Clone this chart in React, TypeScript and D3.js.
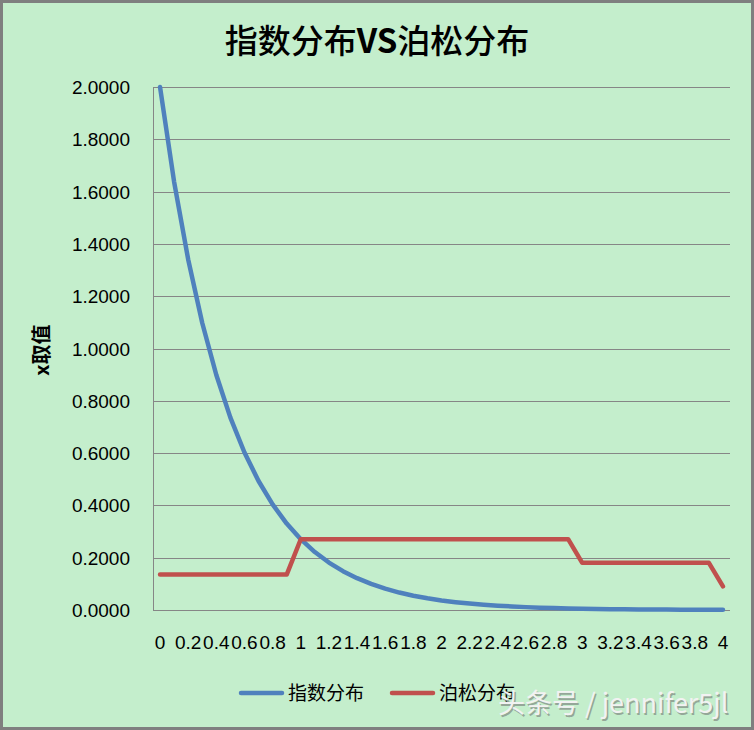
import React from 'react';
import * as d3 from 'd3';

// x values, step 0.1 (labels shown every second category)
const categories = [
    '0', '0.1', '0.2', '0.3', '0.4', '0.5', '0.6', '0.7', '0.8', '0.9',
    '1', '1.1', '1.2', '1.3', '1.4', '1.5', '1.6', '1.7', '1.8', '1.9',
    '2', '2.1', '2.2', '2.3', '2.4', '2.5', '2.6', '2.7', '2.8', '2.9',
    '3', '3.1', '3.2', '3.3', '3.4', '3.5', '3.6', '3.7', '3.8', '3.9',
    '4',
];

const expValues = [
    2.0, 1.6375, 1.3406, 1.0976, 0.8987, 0.7358, 0.6024, 0.4932, 0.4038, 0.3306,
    0.2707, 0.2216, 0.1814, 0.1485, 0.1216, 0.0996, 0.0815, 0.0667, 0.0546, 0.0447,
    0.0366, 0.0300, 0.0246, 0.0201, 0.0165, 0.0135, 0.0110, 0.0090, 0.0074, 0.0061,
    0.0050, 0.0041, 0.0033, 0.0027, 0.0022, 0.0018, 0.0015, 0.0012, 0.0010, 0.0008,
    0.0007,
];

const poissonValues = [
    0.1353, 0.1353, 0.1353, 0.1353, 0.1353, 0.1353, 0.1353, 0.1353, 0.1353, 0.1353,
    0.2707, 0.2707, 0.2707, 0.2707, 0.2707, 0.2707, 0.2707, 0.2707, 0.2707, 0.2707,
    0.2707, 0.2707, 0.2707, 0.2707, 0.2707, 0.2707, 0.2707, 0.2707, 0.2707, 0.2707,
    0.1804, 0.1804, 0.1804, 0.1804, 0.1804, 0.1804, 0.1804, 0.1804, 0.1804, 0.1804,
    0.0902,
];

const yTicks = [0, 0.2, 0.4, 0.6, 0.8, 1.0, 1.2, 1.4, 1.6, 1.8, 2.0];

const seriesNames = ['指数分布', '泊松分布'];
const seriesColors = ['#4F81BD', '#C0504D'];

const W = 754;
const H = 730;
const FONT = '"Liberation Sans", Arial, sans-serif';
const CJK = '"Noto Sans CJK SC", sans-serif';

export default function App() {
    const x = d3.scaleBand<string>().domain(categories).range([153, 730]);
    const y = d3.scaleLinear().domain([0, 2]).range([610, 87]);

    const line = d3.line<number>()
        .x((_, i) => (x(categories[i]) as number) + x.bandwidth() / 2)
        .y(d => y(d));

    const series = [expValues, poissonValues];

    return (
        <div style={{position: 'absolute', left: 0, top: 0}}>
            <svg width={W} height={H} style={{display: 'block'}}>
                <rect x={1.5} y={1.5} width={W - 3} height={H - 3} fill="#C4EECC" stroke="#7F7F7F" strokeWidth={3}/>

                <text x={377} y={53} textAnchor="middle" fontFamily={CJK} fontSize={33} fill="#000">
                    <tspan fontWeight={500}>指数分布</tspan>
                    <tspan fontWeight="bold">VS</tspan>
                    <tspan fontWeight={500}>泊松分布</tspan>
                </text>

                {/* grid lines */}
                {yTicks.map(t => (
                    <line key={t} x1={153} x2={730} y1={Math.round(y(t)) + 0.5} y2={Math.round(y(t)) + 0.5}
                          stroke="#868686" strokeWidth={1}/>
                ))}
                <line x1={153.5} x2={153.5} y1={y(2)} y2={y(0)} stroke="#868686" strokeWidth={1}/>

                {/* y tick labels */}
                {yTicks.map(t => (
                    <text key={'l' + t} x={130} y={y(t) + 7} textAnchor="end" fontFamily={FONT} fontSize={19} fill="#000">
                        {d3.format('.4f')(t)}
                    </text>
                ))}

                {/* x tick labels, every second category */}
                {categories.map((c, i) => i % 2 === 0 ? (
                    <text key={c} x={(x(c) as number) + x.bandwidth() / 2} y={649} textAnchor="middle"
                          fontFamily={FONT} fontSize={19} fill="#000">{c}</text>
                ) : null)}

                <text transform="translate(49,350) rotate(-90)" textAnchor="middle" fontFamily={CJK}
                      fontWeight="bold" fontSize={20} fill="#000">x取值</text>

                {series.map((s, i) => (
                    <path key={i} d={line(s) || ''} fill="none" stroke={seriesColors[i]} strokeWidth={4.5}
                          strokeLinejoin="round" strokeLinecap="round"/>
                ))}

                {/* legend */}
                {seriesNames.map((n, i) => (
                    <g key={n} transform={`translate(${241 + i * 151},0)`}>
                        <line x1={0} x2={41} y1={693} y2={693} stroke={seriesColors[i]} strokeWidth={4.5}
                              strokeLinecap="round"/>
                        <text x={47} y={700} fontFamily={CJK} fontSize={19} fill="#000">{n}</text>
                    </g>
                ))}

                {/* watermark, overlaps the legend as in the source */}
                <text x={498} y={713} fontFamily={CJK} fontSize={27} fill="#6E6E6E" opacity={0.55}>
                    <tspan dx={1.5} dy={1.5}>头条号 / jennifer5jl</tspan>
                </text>
                <text x={498} y={713} fontFamily={CJK} fontSize={27} fill="#F2F2F2">
                    头条号 / jennifer5jl
                </text>
            </svg>
        </div>
    );
}
